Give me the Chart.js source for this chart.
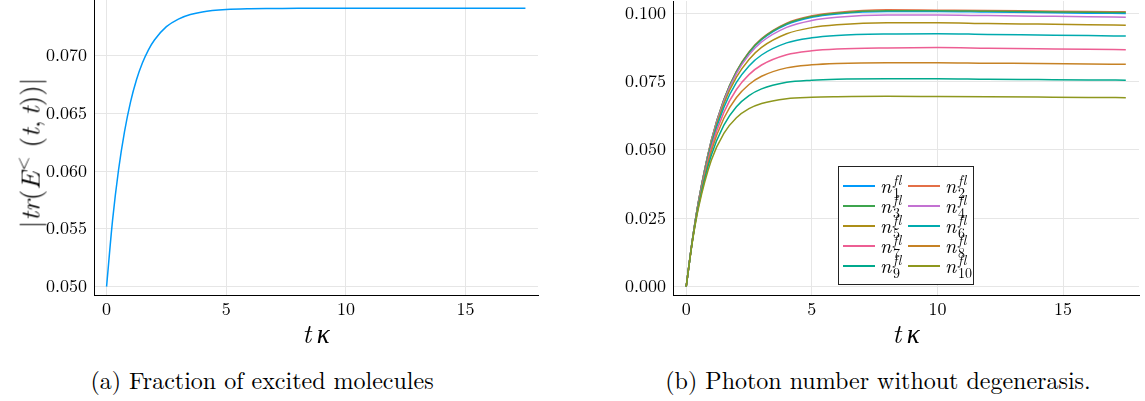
<!DOCTYPE html>
<html>
<head>
<meta charset="utf-8">
<script src="https://cdn.jsdelivr.net/npm/chart.js@4.4.1/dist/chart.umd.min.js"></script>
<style>
html,body{margin:0;padding:0;background:#fff;width:1145px;height:401px;overflow:hidden;color:#000;}
.lm{font-family:"Latin Modern Roman","Liberation Serif",serif;font-variant-ligatures:none;font-feature-settings:"liga" 0;}
#wrapA{position:absolute;left:0;top:0;width:545px;height:340px;}
#wrapB{position:absolute;left:580px;top:0;width:565px;height:340px;}
.xtitle{position:absolute;top:332px;transform:translate(-50%,-50%);font-style:italic;font-size:27px;white-space:nowrap;}
.ytitle{position:absolute;left:28px;top:153px;transform:translate(-50%,-50%) rotate(-90deg);font-size:27px;white-space:nowrap;}
.ytitle sup{font-size:18px;vertical-align:0.6em;margin-left:1px;margin-right:9px;}
.caption{position:absolute;top:379px;transform:translate(-50%,-50%);font-size:24px;white-space:nowrap;}
#legend{position:absolute;left:838px;top:166px;width:134px;height:117px;border:1px solid #222;background:#fff;}
.item{position:absolute;width:64px;height:20px;}
.sw{position:absolute;left:0;top:9px;width:32px;height:2px;}
.n{position:absolute;left:37px;top:-1px;font-style:italic;font-size:20px;line-height:20px;}
.sp{position:absolute;left:50px;top:-3px;font-style:italic;font-size:14px;line-height:13px;letter-spacing:0.5px;}
.sb{position:absolute;left:50px;top:10px;font-size:14px;line-height:13px;}
</style>
</head>
<body>
<div id="wrapA"><canvas id="cA" width="545" height="340"></canvas></div>
<div id="wrapB"><canvas id="cB" width="565" height="340"></canvas></div>
<div class="ytitle lm">|<i>tr</i>(<i>E</i><sup>&lt;</sup>(<i>t</i>,&#8201;<i>t</i>))|</div>
<div class="xtitle lm" style="left:316px;">t&#8201;κ</div>
<div class="xtitle lm" style="left:906px;">t&#8201;κ</div>
<div class="caption lm" style="left:262px;">(a) Fraction of excited molecules</div>
<div class="caption lm" style="left:878px;">(b) Photon number without degenerasis.</div>
<div id="legend" class="lm"></div>
<script>
// ---- data ----
const xTicks = [0, 5, 10, 15];
const yTicksA = [0.050, 0.055, 0.060, 0.065, 0.070];
const yTicksB = [0.000, 0.025, 0.050, 0.075, 0.100];

const tA = [0,0.25,0.5,0.75,1,1.25,1.5,1.75,2,2.5,3,3.5,4,5,6,7,8,10,12,14,16,17.5];
const excited = [0.0500,0.05574,0.06010,0.06342,0.06598,0.06791,0.06938,0.07051,0.07136,0.07251,0.07317,0.07356,0.07379,0.07399,0.07406,0.07408,0.0741,0.0741,0.0741,0.0741,0.0741,0.0741];

const tB = [0,0.25,0.5,1,1.5,2,2.5,3,4,5,6,8,10,12,14,16,17.5];
const n1  = [0,0.01732,0.03166,0.05337,0.06827,0.07848,0.08550,0.09031,0.09586,0.09848,0.09971,0.1006,0.1006,0.1004,0.1002,0.1000,0.0999];
const n2  = [0,0.01733,0.03170,0.05348,0.06846,0.07876,0.08584,0.09070,0.09634,0.09901,0.10027,0.1012,0.1011,0.1010,0.1008,0.1006,0.1005];
const n3  = [0,0.01732,0.03167,0.05342,0.06836,0.07862,0.08566,0.09049,0.09611,0.09874,0.09999,0.1009,0.1009,0.1007,0.1005,0.1003,0.1002];
const n4  = [0,0.01730,0.03158,0.05314,0.06786,0.07790,0.08475,0.08944,0.09481,0.09732,0.09848,0.0993,0.0993,0.0991,0.0989,0.0987,0.0985];
const n5  = [0,0.01725,0.03141,0.05262,0.06691,0.07657,0.08309,0.08748,0.09245,0.09471,0.09574,0.0965,0.0965,0.0962,0.0960,0.0958,0.0956];
const n6  = [0,0.01718,0.03117,0.05185,0.06556,0.07466,0.08070,0.08470,0.08913,0.09100,0.09185,0.0924,0.0925,0.0922,0.0920,0.0918,0.0916];
const n7  = [0,0.01708,0.03083,0.05079,0.06372,0.07210,0.07753,0.08104,0.08479,0.08625,0.08690,0.0873,0.0874,0.0872,0.0870,0.0868,0.0866];
const n8  = [0,0.01696,0.03041,0.04954,0.06158,0.06915,0.07391,0.07692,0.07999,0.08110,0.08160,0.0819,0.0819,0.0817,0.0816,0.0814,0.0813];
const n9  = [0,0.01682,0.02992,0.04806,0.05908,0.06577,0.06984,0.07230,0.07470,0.07550,0.07585,0.0760,0.0760,0.0758,0.0757,0.0756,0.0755];
const n10 = [0,0.01663,0.02928,0.04625,0.05607,0.06176,0.06506,0.06697,0.06872,0.06922,0.06942,0.0696,0.0695,0.0694,0.0693,0.0692,0.0691];
const seriesB = [n1,n2,n3,n4,n5,n6,n7,n8,n9,n10];
const seriesSub = ['1','2','3','4','5','6','7','8','9','10'];

// ---- styles ----
const palette = ['#009AFA','#E36F47','#3EA44E','#C371D2','#AC8E18','#00AAAE','#ED5E93','#C68225','#00A98D','#8E971E'];
const FONT = '"Latin Modern Roman", "Liberation Serif", serif';

function xScale(){
  return {
    type:'linear', min:-0.525, max:18.025,
    afterBuildTicks: s => { s.ticks = xTicks.map(v => ({value:v})); },
    afterFit: s => { s.height = 45; s.paddingLeft = 0; s.paddingRight = 0; },
    grid:{color:'#e6e6e6', lineWidth:1, drawTicks:false},
    border:{display:true, color:'#000', width:1},
    ticks:{color:'#000', font:{family:FONT, size:18}, padding:4, maxRotation:0, autoSkip:false, callback: v => String(v)}
  };
}
function yScale(min, max, ticks, width){
  return {
    type:'linear', min:min, max:max,
    afterBuildTicks: s => { s.ticks = ticks.map(v => ({value:v})); },
    afterFit: s => { s.width = width; s.paddingTop = 0; s.paddingBottom = 0; },
    grid:{color:'#e6e6e6', lineWidth:1, drawTicks:false},
    border:{display:true, color:'#000', width:1},
    ticks:{color:'#000', font:{family:FONT, size:18}, padding:7, autoSkip:false, callback: v => v.toFixed(3)}
  };
}
const common = {
  responsive:false, animation:false, events:[],
  plugins:{legend:{display:false}, tooltip:{enabled:false}},
  elements:{point:{radius:0}, line:{borderWidth:1.5, cubicInterpolationMode:'monotone'}}
};

function draw(){
  new Chart(document.getElementById('cA'), {
    type:'line',
    data:{datasets:[{label:'excited', data: tA.map((t,i)=>({x:t,y:excited[i]})), borderColor:palette[0], fill:false}]},
    options:Object.assign({}, common, {
      layout:{padding:{left:0, top:0, right:7, bottom:0}},
      scales:{x:xScale(), y:yScale(0.04928, 0.07482, yTicksA, 94)}
    })
  });

  new Chart(document.getElementById('cB'), {
    type:'line',
    data:{datasets: seriesB.map((arr,k)=>({
      label:'n'+seriesSub[k], data: tB.map((t,i)=>({x:t,y:arr[i]})),
      borderColor:palette[k], fill:false, order: seriesB.length - k
    }))},
    options:Object.assign({}, common, {
      layout:{padding:{left:0, top:1, right:6, bottom:0}},
      scales:{x:xScale(), y:yScale(-0.00304, 0.10444, yTicksB, 93)}
    })
  });
}

// HTML legend (sub/superscripts)
const leg = document.getElementById('legend');
seriesSub.forEach((s,k)=>{
  const it = document.createElement('div');
  it.className = 'item';
  it.style.left = (4 + (k%2)*65) + 'px';
  it.style.top = (9 + Math.floor(k/2)*20) + 'px';
  it.innerHTML = '<div class="sw" style="background:'+palette[k]+'"></div><span class="n">n</span><span class="sp">fl</span><span class="sb">'+s+'</span>';
  leg.appendChild(it);
});

let done = false;
function go(){ if (!done) { done = true; draw(); } }
try {
  Promise.all([
    document.fonts.load('18px "Latin Modern Roman"'),
    document.fonts.load('italic 20px "Latin Modern Roman"')
  ]).then(go, go);
  setTimeout(go, 300);
} catch (e) { go(); }
</script>
</body>
</html>
